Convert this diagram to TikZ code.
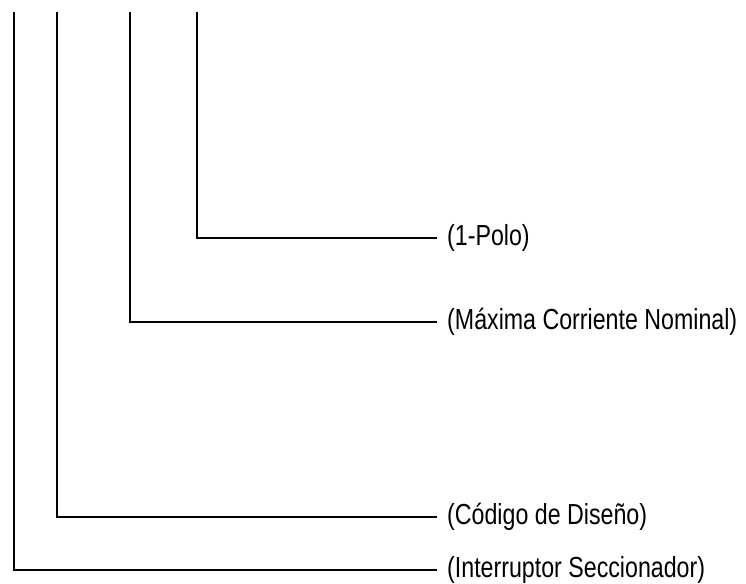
\documentclass[tikz,border=0pt]{standalone}
\usepackage{fontspec}
\setmainfont[FakeStretch=0.8]{Liberation Sans}

\begin{document}
\begin{tikzpicture}[x=1pt,y=-1pt,
    lbl/.style={anchor=west,inner xsep=10pt,inner ysep=0pt,font=\fontsize{29}{33}\selectfont},
    wire/.style={line width=2.2pt}]
    \useasboundingbox (0,0) rectangle (746,583);

    \coordinate (sec top) at (14,12);
    \coordinate (cod top) at (57,12);
    \coordinate (max top) at (130,12);
    \coordinate (pol top) at (197,12);

    \node[lbl] (sec) at (437,570) {(Interruptor Seccionador)};
    \node[lbl] (cod) at (437,517) {(Código de Diseño)};
    \node[lbl] (max) at (437,322) {(Máxima Corriente Nominal)};
    \node[lbl] (pol) at (437,238) {(1-Polo)};

    \draw[wire] (sec top) |- (sec.west);
    \draw[wire] (cod top) |- (cod.west);
    \draw[wire] (max top) |- (max.west);
    \draw[wire] (pol top) |- (pol.west);
\end{tikzpicture}
\end{document}
